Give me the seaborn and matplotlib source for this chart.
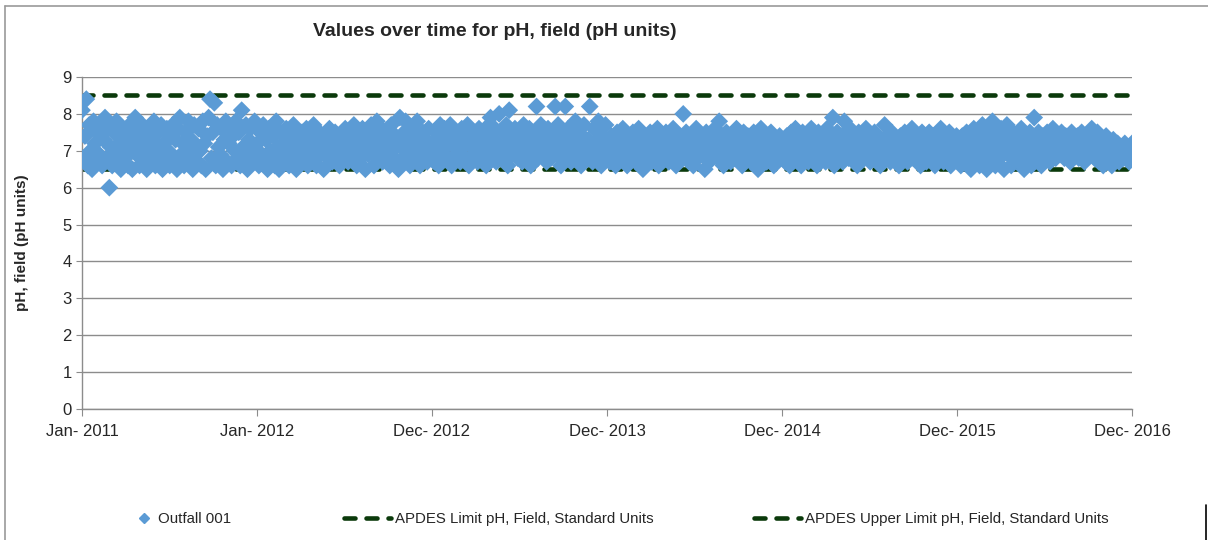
import pandas as pd
import numpy as np
import matplotlib
matplotlib.use("Agg")
import matplotlib.pyplot as plt
from matplotlib.lines import Line2D
import seaborn as sns

ph_2011 = [8.1, 6.8, 7.4, 8.4, 6.6, 7.7, 7.0, 6.5, 7.8, 7.2,
           6.7, 7.5, 6.9, 7.7, 6.6, 7.3, 7.9, 6.8, 7.6, 6.0,
           7.1, 6.6, 7.5, 6.9, 7.8, 6.7, 7.2, 6.5, 7.6, 7.0,
           6.8, 7.4, 6.6, 7.7, 7.1, 6.5, 7.3, 7.9, 6.9, 7.5,
           6.6, 7.2, 7.7, 6.8, 7.4, 6.5, 7.0, 7.6, 6.7, 7.3,
           7.8, 6.6, 7.1, 7.5, 6.9, 7.7, 6.5, 7.2, 6.8, 7.6,
           7.0, 6.6, 7.4, 7.7, 6.7, 7.3, 6.5, 7.6, 7.9, 6.9,
           7.2, 6.6, 7.5, 7.0, 7.8, 6.8, 7.3, 6.5, 7.7, 7.1,
           6.7, 7.6, 7.0, 6.6, 7.8, 7.2, 6.5, 7.4, 7.9, 8.4,
           6.8, 7.5, 8.3, 6.6, 7.7, 7.1, 6.9, 7.6, 6.5, 7.3,
           7.8, 6.7, 7.2, 7.6, 6.6, 7.4, 7.0, 7.8, 6.8, 7.5,
           6.6, 8.1, 7.1, 6.9, 7.7, 6.5, 7.3, 7.6, 6.7, 7.0,
           7.8, 6.8]
ph_2012 = [7.2, 6.6, 7.5, 6.9, 7.7, 6.7, 7.3, 6.5, 7.6, 7.0,
           6.8, 7.4, 6.6, 7.8, 7.1, 6.5, 7.5, 6.9, 7.2, 6.7,
           7.6, 7.0, 6.6, 7.4, 6.8, 7.7, 7.1, 6.5, 7.3, 7.0,
           6.7, 7.5, 7.2, 6.9, 7.6, 6.6, 7.4, 7.0, 6.8, 7.7,
           7.1, 6.6, 7.3, 7.5, 6.9, 7.2, 6.5, 7.4, 7.0, 6.8,
           7.6, 7.1, 6.7, 7.3, 7.5, 6.9, 7.2, 6.6, 7.4, 7.0,
           6.8, 7.6, 7.2, 6.7, 7.5, 7.0, 6.9, 7.7, 7.3, 6.6,
           7.4, 7.1, 6.8, 7.6, 7.2, 6.5, 7.5, 6.9, 7.3, 7.7,
           7.0, 6.6, 7.4, 7.8, 6.8, 7.2, 7.6, 6.7, 7.1, 7.5,
           6.9, 7.3, 6.6, 7.7, 7.0, 6.8, 7.4, 7.2, 6.5, 7.9,
           7.1, 6.7, 7.5, 7.8, 6.9, 7.3, 6.6, 7.6, 7.0, 7.2,
           6.8, 7.8, 7.4, 6.6, 7.1, 7.5, 6.9, 7.3, 6.7, 7.6,
           7.0, 6.8]
ph_2013 = [7.2, 6.7, 7.5, 7.0, 6.6, 7.7, 7.3, 6.9, 7.6, 7.1,
           6.8, 7.4, 7.7, 6.6, 7.2, 7.5, 6.9, 7.3, 7.0, 6.7,
           7.6, 7.1, 6.8, 7.4, 7.7, 6.6, 7.2, 7.5, 6.9, 7.3,
           7.0, 6.7, 7.6, 7.2, 6.8, 7.5, 7.1, 6.6, 7.4, 7.7,
           7.9, 6.9, 7.3, 7.6, 6.7, 7.2, 8.0, 7.0, 6.8, 7.5,
           7.1, 7.7, 6.6, 8.1, 7.4, 6.9, 7.3, 7.6, 7.0, 6.8,
           7.5, 7.2, 6.7, 7.7, 7.1, 6.9, 7.4, 7.6, 6.6, 7.3,
           7.0, 7.5, 8.2, 6.8, 7.2, 7.7, 6.9, 7.4, 7.1, 6.7,
           7.6, 7.3, 6.8, 7.5, 7.0, 8.2, 6.9, 7.7, 7.2, 6.6,
           7.4, 7.1, 8.2, 6.8, 7.6, 7.3, 6.7, 7.5, 7.0, 7.8,
           6.9, 7.2, 7.6, 6.6, 7.4, 7.7, 7.0, 6.8, 7.3, 8.2,
           7.1, 6.7, 7.6, 7.2, 6.9, 7.8, 7.0, 6.6, 7.4, 7.3,
           7.7, 6.8]
ph_2014 = [7.1, 6.7, 7.4, 6.9, 7.2, 6.6, 7.5, 7.0, 6.8, 7.3,
           7.6, 6.9, 7.1, 6.6, 7.4, 7.2, 6.8, 7.5, 7.0, 6.7,
           7.3, 7.6, 6.9, 7.1, 6.5, 7.4, 7.2, 6.8, 7.0, 7.5,
           6.7, 7.3, 7.1, 6.9, 7.6, 6.6, 7.2, 7.4, 7.0, 6.8,
           7.5, 7.1, 6.7, 7.3, 6.9, 7.6, 7.0, 6.6, 7.2, 7.4,
           6.8, 7.1, 8.0, 6.9, 7.5, 7.2, 6.7, 7.4, 7.0, 6.6,
           7.3, 7.6, 6.8, 7.1, 7.4, 6.9, 7.2, 6.5, 7.5, 7.0,
           6.7, 7.3, 7.1, 6.9, 7.6, 7.2, 6.8, 7.8, 7.0, 7.4,
           6.6, 7.2, 7.5, 6.9, 7.1, 6.7, 7.4, 7.0, 6.8, 7.6,
           7.3, 6.9, 7.1, 6.6, 7.5, 7.2, 6.8, 7.4, 7.0, 6.7,
           7.2, 7.5, 6.9, 7.1, 6.5, 7.3, 7.6, 6.8, 7.0, 7.4,
           6.7, 7.2, 6.9, 7.5, 7.1, 6.6, 7.3, 7.0, 6.8, 7.4,
           7.1, 6.9]
ph_2015 = [7.0, 6.7, 7.4, 7.2, 6.6, 7.5, 6.9, 7.1, 7.6, 6.8,
           7.3, 7.0, 6.6, 7.5, 7.2, 6.9, 7.4, 6.7, 7.1, 7.6,
           6.8, 7.3, 7.0, 6.6, 7.5, 7.2, 6.9, 7.4, 7.1, 6.7,
           7.6, 7.0, 6.8, 7.3, 7.9, 6.6, 7.2, 7.5, 6.9, 7.1,
           7.4, 6.7, 7.8, 7.0, 7.3, 6.8, 7.6, 7.1, 6.9, 7.4,
           7.2, 6.6, 7.5, 7.0, 6.8, 7.3, 7.1, 7.6, 6.9, 7.2,
           6.7, 7.4, 7.0, 7.5, 6.8, 7.2, 7.1, 6.6, 7.3, 7.0,
           7.7, 6.9, 7.4, 7.1, 6.7, 7.5, 7.2, 6.8, 7.3, 7.0,
           6.6, 7.4, 7.1, 6.9, 7.5, 7.2, 6.7, 7.3, 7.0, 7.6,
           6.8, 7.2, 7.4, 6.9, 7.1, 6.6, 7.5, 7.0, 7.3, 6.7,
           7.2, 7.5, 6.8, 7.1, 7.4, 6.6, 7.3, 7.0, 6.9, 7.6,
           7.1, 6.7, 7.4, 7.2, 6.9, 7.5, 6.6, 7.3, 7.0, 6.8,
           7.4, 7.1]
ph_2016 = [7.0, 6.6, 7.4, 7.2, 6.7, 7.5, 6.9, 7.3, 6.5, 7.1,
           7.6, 6.8, 7.2, 7.4, 6.6, 7.0, 7.7, 6.9, 7.3, 6.5,
           7.5, 7.1, 6.7, 7.8, 7.0, 6.6, 7.4, 7.2, 6.8, 7.6,
           7.1, 6.5, 7.3, 7.7, 6.9, 7.2, 6.6, 7.5, 7.0, 6.8,
           7.4, 7.1, 6.7, 7.6, 7.0, 6.5, 7.3, 7.2, 6.9, 7.5,
           6.6, 7.1, 7.9, 7.3, 6.8, 7.5, 7.0, 6.6, 7.4, 7.2,
           6.9, 7.5, 7.1, 6.7, 7.3, 7.6, 7.0, 6.8, 7.4, 7.2,
           6.9, 7.5, 7.1, 6.8, 7.4, 7.2, 7.0, 6.7, 7.5, 7.3,
           6.9, 7.1, 7.4, 6.8, 7.2, 7.5, 7.0, 6.7, 7.3, 7.1,
           6.9, 7.4, 7.6, 7.0, 6.8, 7.2, 7.5, 6.7, 7.1, 7.3,
           6.6, 7.0, 7.4, 7.2, 6.8, 7.1, 6.6, 7.3, 7.0, 6.9,
           7.2, 6.7, 7.1, 7.0, 6.8, 7.2, 6.9, 7.1, 6.7, 7.0,
           7.2]

lower_limit = 6.5
upper_limit = 8.5
tick_dates = ["2011-01-01", "2012-01-01", "2012-12-31", "2013-12-31",
              "2014-12-31", "2015-12-31", "2016-12-30"]

ph = ph_2011 + ph_2012 + ph_2013 + ph_2014 + ph_2015 + ph_2016
df = pd.DataFrame({
    "date": pd.date_range("2011-01-01", periods=len(ph), freq="3D"),
    "ph": ph,
})

sns.set_style("white")
plt.rcParams["font.family"] = ["Liberation Sans", "DejaVu Sans"]

blue = "#5B9BD5"
green = "#0B3A0B"
grey = "#8C8C8C"
dash_pat = (2.4, 2.4)

fig = plt.figure(figsize=(12.08, 5.4), dpi=100)
ax = fig.add_axes([82 / 1208, 1 - 409 / 540, 1050 / 1208, 332 / 540])

# limit lines
dash = dict(color=green, linewidth=3.3, dashes=dash_pat,
            dash_capstyle="round", zorder=2)
ax.axhline(lower_limit, **dash)
ax.axhline(upper_limit, **dash)

sns.scatterplot(data=df, x="date", y="ph", marker="D", color=blue,
                edgecolor="none", s=82, ax=ax, zorder=3, legend=False)

ticks = pd.to_datetime(tick_dates)
ax.set_xlim(ticks[0], ticks[-1])
ax.set_xticks(ticks)
ax.set_xticklabels([t.strftime("%b- %Y") for t in ticks], fontsize=12)
ax.set_ylim(0, 9)
ax.set_yticks(range(0, 10))
ax.tick_params(axis="y", labelsize=12, length=4, color=grey, direction="out", left=True)
ax.tick_params(axis="x", length=5, color=grey, direction="out", bottom=True, pad=6)
ax.yaxis.grid(True, color=grey, linewidth=1)
ax.set_axisbelow(True)
for s in ["top", "right"]:
    ax.spines[s].set_visible(False)
for s in ["left", "bottom"]:
    ax.spines[s].set_color(grey)
    ax.spines[s].set_linewidth(1)
ax.set_xlabel("")
ax.set_ylabel("pH, field (pH units)", fontsize=11, fontweight="bold", labelpad=24)

fig.text(495 / 1208, 1 - 32 / 540, "Values over time for pH, field (pH units)",
         ha="center", va="center", fontsize=14, fontweight="bold")

# legend entries placed along the bottom
entries = [
    (Line2D([], [], marker="D", color=blue, linestyle="none", markersize=5),
     "Outfall 001", 135, 1.2),
    (Line2D([], [], color=green, linewidth=3.3, dashes=dash_pat,
            dash_capstyle="round"), "APDES Limit pH, Field, Standard Units", 344, 3.1),
    (Line2D([], [], color=green, linewidth=3.3, dashes=dash_pat,
            dash_capstyle="round"), "APDES Upper Limit pH, Field, Standard Units", 754, 3.1),
]
for handle, label, xpix, hlen in entries:
    fig.legend([handle], [label], loc="center left",
               bbox_to_anchor=(xpix / 1208, 1 - 519 / 540), frameon=False,
               fontsize=10.8, handlelength=hlen, handletextpad=0.3,
               borderpad=0, borderaxespad=0)

# chart-area border
fig.add_artist(Line2D([5 / 1208, 5 / 1208], [0, 1 - 6 / 540], color="#9A9A9A", linewidth=1.2))
fig.add_artist(Line2D([5 / 1208, 1], [1 - 6 / 540, 1 - 6 / 540], color="#9A9A9A", linewidth=1.2))
fig.add_artist(Line2D([1206 / 1208, 1206 / 1208], [0, 1 - 505 / 540], color="black", linewidth=1.2))

fig.savefig("out.png", dpi=100)
